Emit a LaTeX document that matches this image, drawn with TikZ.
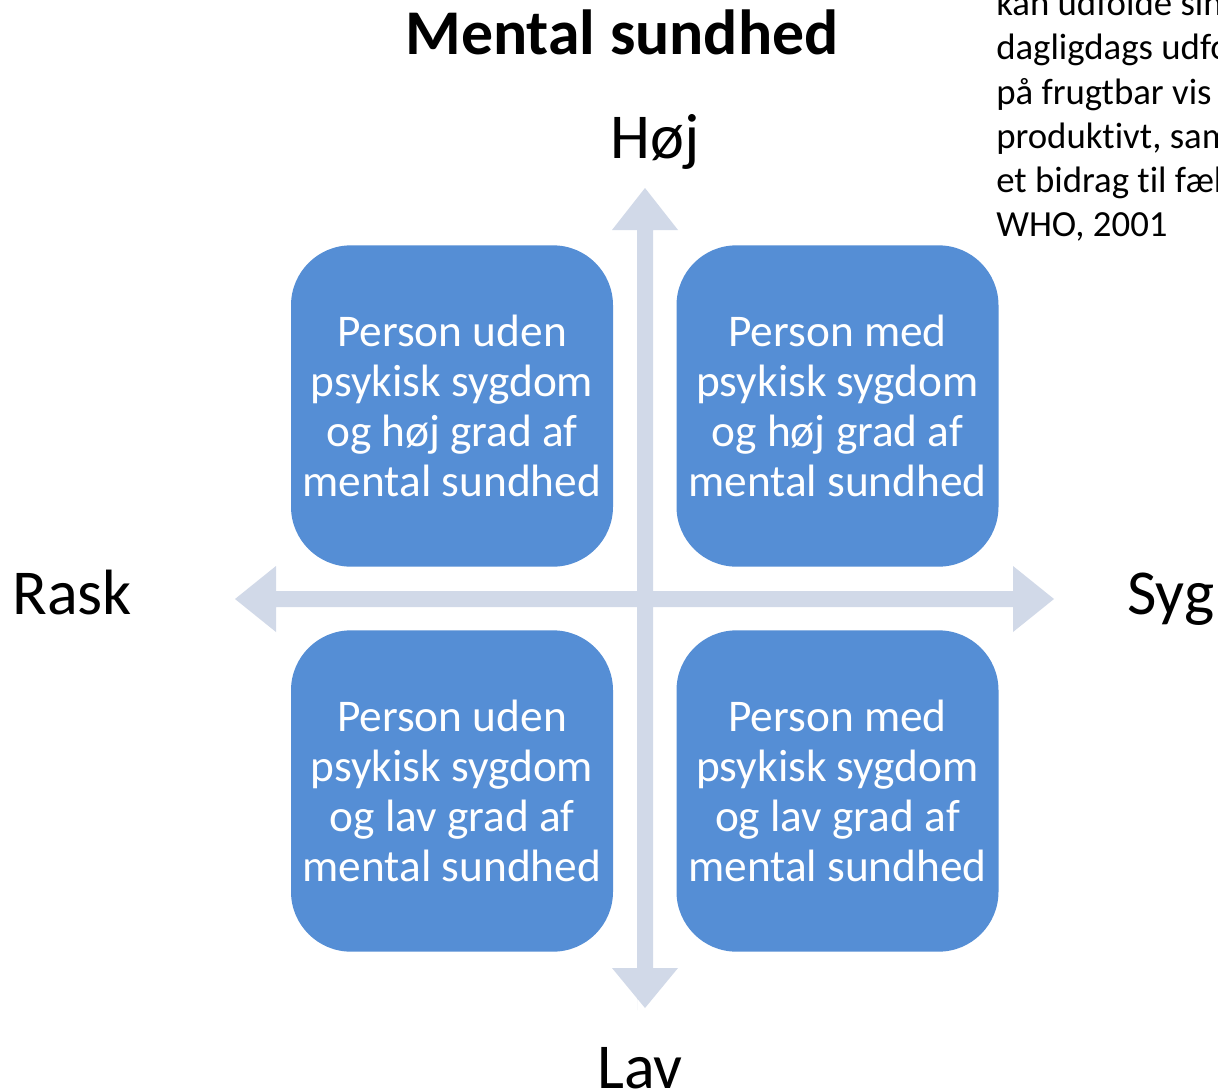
\documentclass[tikz,border=0pt]{standalone}
\usepackage{fontspec}
\setmainfont{Carlito}[Ligatures=NoCommon]
\definecolor{boxblue}{HTML}{558ED5}
\definecolor{axisgray}{HTML}{D1D9E8}
\begin{document}
\begin{tikzpicture}[x=0.75pt,y=-0.75pt,
  quad/.style={fill=boxblue, rounded corners=45pt, minimum width=241.5pt, minimum height=241pt,
    text=white, align=center, font=\fontsize{34}{37.3}\selectfont, inner sep=0pt},
  axlabel/.style={font=\fontsize{48}{52}\selectfont, inner sep=0pt, anchor=base}]
\clip (0,0) rectangle (1218,1092);
\fill[white] (0,0) rectangle (1218,1092);
% axes
\fill[axisgray] (637,1010) -- (637,968) -- (612,968) -- (645,1008) -- (678,968) -- (653,968) -- (653,230) -- (678,230) -- (645,188) -- (612,230) -- (637,230) -- cycle;
\fill[axisgray] (276,591) -- (276,566) -- (235,599) -- (276,632) -- (276,607) -- (1013,607) -- (1013,632) -- (1054,599) -- (1013,566) -- (1013,591) -- cycle;
% boxes
\node[quad] (tl) at (452,406) {Person uden\\psykisk sygdom\\og høj grad af\\mental sundhed};
\node[quad] (tr) at (837.5,406) {Person med\\psykisk sygdom\\og høj grad af\\mental sundhed};
\node[quad] (bl) at (452,791) {Person uden\\psykisk sygdom\\og lav grad af\\mental sundhed};
\node[quad] (br) at (837.5,791) {Person med\\psykisk sygdom\\og lav grad af\\mental sundhed};
% labels
\node[font=\fontsize{47.8}{52}\selectfont\bfseries, inner sep=0pt, anchor=base] (title) at (622,55) {Mental sundhed};
\node[axlabel] (hoj) at (655,158) {Høj};
\node[axlabel] (lav) at (640,1088) {Lav};
\node[axlabel, anchor=base west] (rask) at (12,614) {Rask};
\node[axlabel, anchor=base west] (syg) at (1127,614) {Syg};
% quote
\begin{scope}[every node/.style={font=\fontsize{27.6}{33}\selectfont, inner sep=0pt, anchor=base west}]
\node (q1) at (996,16) {kan udfolde sine};
\node (q2) at (996,60) {dagligdags udfordringer};
\node (q3) at (996,104) {på frugtbar vis};
\node (q4) at (996,148) {produktivt, samt};
\node (q5) at (996,192) {et bidrag til fællesskabet};
\node (q6) at (996,236) {WHO, 2001};
\end{scope}
\end{tikzpicture}
\end{document}
